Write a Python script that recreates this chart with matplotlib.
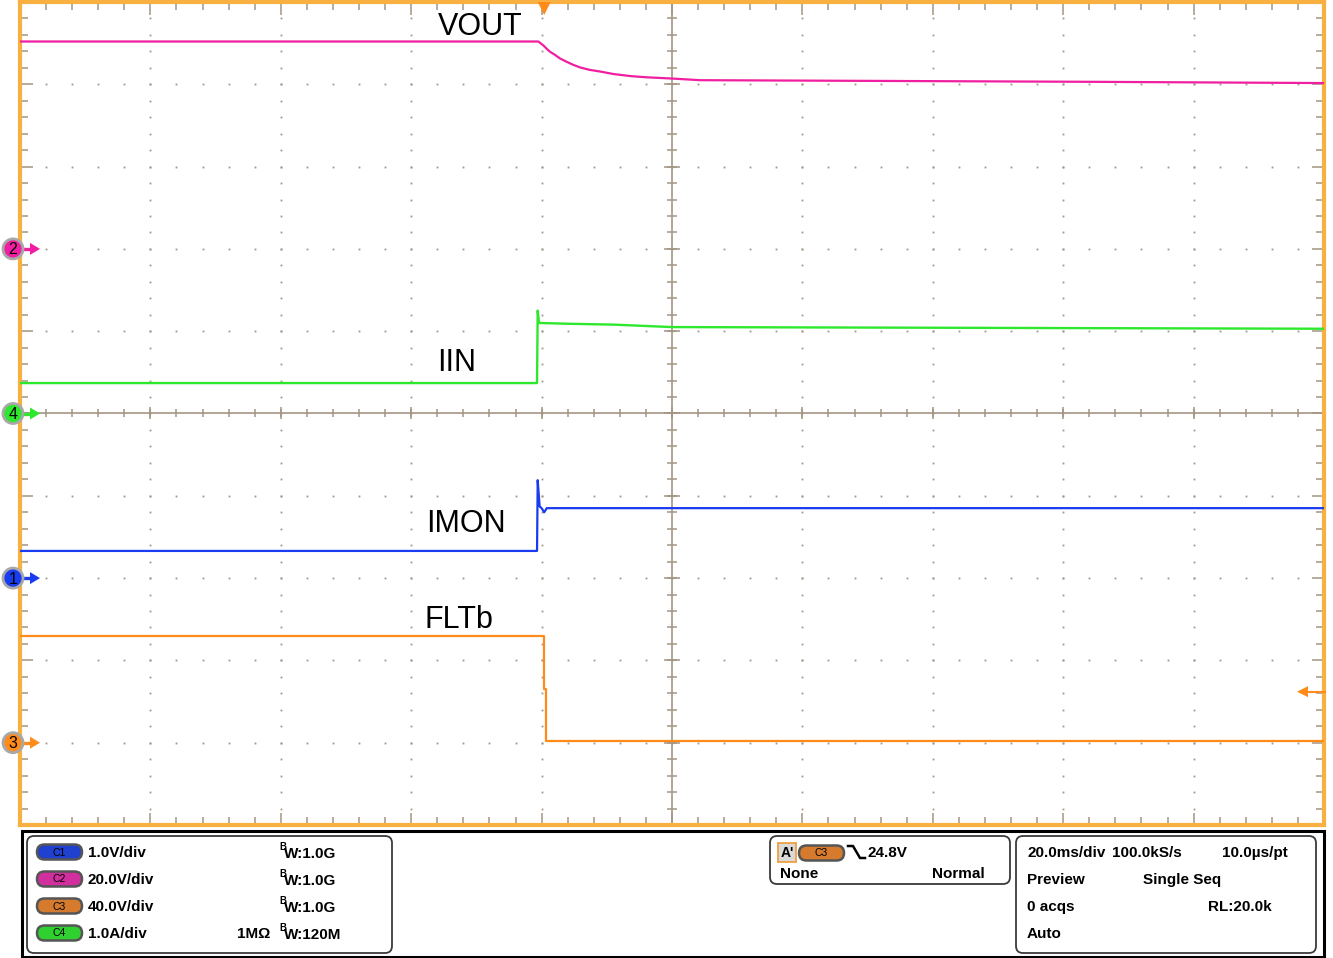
import matplotlib
matplotlib.use('Agg')
import matplotlib.pyplot as plt
from matplotlib.patches import FancyBboxPatch, Circle, Polygon, Rectangle
import numpy as np

plt.rcParams['font.family'] = ['Liberation Sans', 'DejaVu Sans']

W, H, DPI = 1333, 958, 100

# ---------------- data (time in ms, values in channel units) ----------------
# C2 VOUT (V)
t_vout = [-100, -20.5, -19.7, -19.2, -18.7, -17.9, -17.2, -16.2, -15.1, -14.1, -12.6,
          -11.0, -9.0, -6.4, -3.9, 0.0, 4.3, 35.0, 65.0, 100]
v_vout = [50.4, 50.4, 49.4, 48.6, 47.9, 47.1, 46.3, 45.5, 44.7, 44.1, 43.5,
          43.1, 42.5, 42.0, 41.7, 41.4, 41.0, 40.8, 40.6, 40.3]
# C4 IIN (A)
t_iin = [-100, -20.7, -20.6, -20.4, -15.6, -9.0, 0.0, 50.3, 100]
v_iin = [0.37, 0.37, 1.25, 1.10, 1.09, 1.08, 1.05, 1.04, 1.03]
# C1 IMON (V)
t_imon = [-100, -20.7, -20.6, -20.3, -20.0, -19.6, -19.2, 100]
v_imon = [0.33, 0.33, 1.19, 0.87, 0.85, 0.80, 0.85, 0.85]
# C3 FLTb (V)
t_flt = [-100, -19.6, -19.6, -19.3, -19.3, 100]
v_flt = [51.9, 51.9, 26.1, 26.1, 0.8, 0.8]

# channel settings: scale per div, ground position (div from bottom)
ch_scale = {'C1': 1.0, 'C2': 20.0, 'C3': 40.0, 'C4': 1.0}
ch_offset = {'C1': 3.0, 'C2': 7.0, 'C3': 1.0, 'C4': 5.0}
ch_color = {'C1': '#1a3cf0', 'C2': '#f01ea0', 'C3': '#ff8c1a', 'C4': '#2ee82e'}
trig_level = 24.8  # V on C3
trig_time = -19.6

labels = [('VOUT', 480, 27), ('IIN', 457, 363), ('IMON', 466, 524), ('FLTb', 459, 620)]

panel_rows = [('C1', '1.0V/div', '', ':1.0G'),
              ('C2', '20.0V/div', '', ':1.0G'),
              ('C3', '40.0V/div', '', ':1.0G'),
              ('C4', '1.0A/div', '1MΩ', ':120M')]
pill_fill = {'C1': '#2040d0', 'C2': '#d22f9e', 'C3': '#d67a2e', 'C4': '#30d030'}

# ---------------- figure ----------------
fig = plt.figure(figsize=(W / DPI, H / DPI), dpi=DPI)
fig.patch.set_facecolor('white')

L, R, T, B = 20, 1324, 2, 825
ax = fig.add_axes([L / W, (H - B) / H, (R - L) / W, (B - T) / H])
ax.set_xlim(-100, 100)
ax.set_ylim(0, 10)
ax.set_facecolor('white')
grid_c = '#a39684'
border_c = '#f8b040'
for s in ax.spines.values():
    s.set_color(border_c)
    s.set_linewidth(3.0)

ax.set_xticks(np.arange(-100, 101, 20))
ax.set_xticks(np.arange(-100, 101, 4), minor=True)
ax.set_yticks(np.arange(0, 11, 1))
ax.set_yticks(np.arange(0, 10.01, 0.2), minor=True)
ax.tick_params(which='both', direction='in', top=True, right=True, bottom=True, left=True,
               labelbottom=False, labelleft=False, color=grid_c, width=1.1)
ax.tick_params(which='major', length=9)
ax.tick_params(which='minor', length=5.8)

# dotted grid
minor_x = np.arange(-100, 101, 4)
minor_y = np.arange(0, 10.01, 0.2)
for xv in range(-80, 81, 20):
    if xv == 0:
        continue
    ax.plot([xv] * len(minor_y), minor_y, ls='none', marker='s', ms=1.3, color=grid_c, mew=0, zorder=1)
for yv in range(1, 10):
    if yv == 5:
        continue
    ax.plot(minor_x, [yv] * len(minor_x), ls='none', marker='s', ms=1.3, color=grid_c, mew=0, zorder=1)

# center crosshair
ax.axvline(0, color=grid_c, lw=1.2, zorder=1)
ax.axhline(5, color=grid_c, lw=1.2, zorder=1)
ax.plot(minor_x, [5] * len(minor_x), ls='none', marker='|', ms=6, mew=1.1, color=grid_c, zorder=1)
ax.plot(np.arange(-100, 101, 20), [5] * 11, ls='none', marker='|', ms=9, mew=1.1, color=grid_c, zorder=1)
ax.plot([0] * len(minor_y), minor_y, ls='none', marker='_', ms=6.5, mew=1.1, color=grid_c, zorder=1)
ax.plot([0] * 11, np.arange(0, 11, 1), ls='none', marker='_', ms=11, mew=1.1, color=grid_c, zorder=1)


def to_div(ch, vals):
    return [ch_offset[ch] + v / ch_scale[ch] for v in vals]


ax.plot(t_vout, to_div('C2', v_vout), color=ch_color['C2'], lw=1.6, zorder=3)
ax.plot(t_iin, to_div('C4', v_iin), color=ch_color['C4'], lw=1.7, zorder=3)
ax.plot(t_imon, to_div('C1', v_imon), color=ch_color['C1'], lw=1.6, zorder=3)
ax.plot(t_flt, to_div('C3', v_flt), color=ch_color['C3'], lw=1.6, zorder=3)

# ---------------- overlay in pixel coordinates ----------------
ov = fig.add_axes([0, 0, 1, 1], zorder=5)
ov.set_xlim(0, W)
ov.set_ylim(H, 0)
ov.axis('off')
ov.patch.set_alpha(0)

for txt, x, y in labels:
    ov.text(x, y, txt, fontsize=22, ha='center', va='center', color='black')

# trigger position marker (top)
px_trig = L + (trig_time + 100) / 200 * (R - L)
ov.add_patch(Polygon([[px_trig - 6.5, 2], [px_trig + 6.5, 2], [px_trig, 15]], closed=True,
                     facecolor='#ff8c1a', edgecolor='none', zorder=6))

# trigger level marker (right)
py_lvl = B - (ch_offset['C3'] + trig_level / ch_scale['C3']) * (B - T) / 10
ov.add_patch(Polygon([[1297, py_lvl], [1308, py_lvl - 5.5], [1308, py_lvl + 5.5]], closed=True,
                     facecolor='#ff8c1a', edgecolor='none', zorder=6))
ov.plot([1306, 1325], [py_lvl, py_lvl], color='#ff8c1a', lw=1.5, zorder=6)

# channel ground markers (left)
for ch, num in [('C2', '2'), ('C4', '4'), ('C1', '1'), ('C3', '3')]:
    py = B - ch_offset[ch] * (B - T) / 10
    ov.plot([22, 32], [py, py], color=ch_color[ch], lw=2.4, zorder=6, solid_capstyle='butt')
    ov.add_patch(Polygon([[30, py - 6], [40, py], [30, py + 6]], closed=True,
                         facecolor=ch_color[ch], edgecolor='none', zorder=6))
    ov.add_patch(Circle((13, py), 10, facecolor=ch_color[ch], edgecolor='#a8a8a8', lw=2.0, zorder=7))
    ov.text(13, py + 1, num, fontsize=11.5, ha='center', va='center', color='black', zorder=8)

# ---------------- bottom info panel ----------------
ov.add_patch(Rectangle((21.5, 830.5), 1302.5, 126, facecolor='white', edgecolor='black', lw=2.2, zorder=5))


def rbox(x0, y0, x1, y1):
    ov.add_patch(FancyBboxPatch((x0, y0), x1 - x0, y1 - y0,
                                boxstyle='round,pad=0,rounding_size=7',
                                facecolor='white', edgecolor='#3a3a3a', lw=1.3, zorder=6))


rbox(27, 836, 392, 953)
rbox(770, 836, 1010, 884)
rbox(1016, 836, 1316, 953)


def pill(x0, yc, ch):
    ov.add_patch(FancyBboxPatch((x0, yc - 7.5), 45, 15,
                                boxstyle='round,pad=0,rounding_size=7.5',
                                facecolor=pill_fill[ch], edgecolor='#555555', lw=1.8, zorder=7))
    ov.text(x0 + 22.5, yc + 0.5, ch, fontsize=7.5, ha='center', va='center', color='black', zorder=8)


bold = dict(fontsize=11, fontweight='bold', color='black', va='center', zorder=8)
row_y = [853, 880, 907, 934]
for (ch, vdiv, imp, bw), y in zip(panel_rows, row_y):
    pill(37, y - 1, ch)
    ov.text(88, y, vdiv, ha='left', **bold)
    if imp:
        ov.text(237, y, imp, ha='left', **bold)
    ov.text(279, y - 6, 'B', fontsize=7, fontweight='bold', color='black', ha='left', va='center', zorder=8)
    ov.text(284, y + 1, 'W' + bw, ha='left', **bold)

# trigger box contents
ov.add_patch(Rectangle((778, 843), 18, 19, facecolor='#d9d9d9', edgecolor='#f0a040', lw=1.3, zorder=7))
ov.text(787, 853, "A'", ha='center', fontsize=10, fontweight='bold', color='black', va='center', zorder=8)
pill(799, 853, 'C3')
ov.plot([848, 853, 860, 865], [846, 846, 858, 858], color='black', lw=1.8, zorder=8)
ov.text(868, 853, '24.8V', ha='left', **bold)
ov.text(780, 874, 'None', ha='left', **bold)
ov.text(985, 874, 'Normal', ha='right', **bold)

# timebase box contents
ov.text(1027, 853, '20.0ms/div', ha='left', **bold)
ov.text(1112, 853, '100.0kS/s', ha='left', **bold)
ov.text(1222, 853, '10.0µs/pt', ha='left', **bold)
ov.text(1027, 880, 'Preview', ha='left', **bold)
ov.text(1143, 880, 'Single Seq', ha='left', **bold)
ov.text(1027, 907, '0 acqs', ha='left', **bold)
ov.text(1208, 907, 'RL:20.0k', ha='left', **bold)
ov.text(1027, 934, 'Auto', ha='left', **bold)

fig.savefig('out.png', dpi=DPI, facecolor='white')
